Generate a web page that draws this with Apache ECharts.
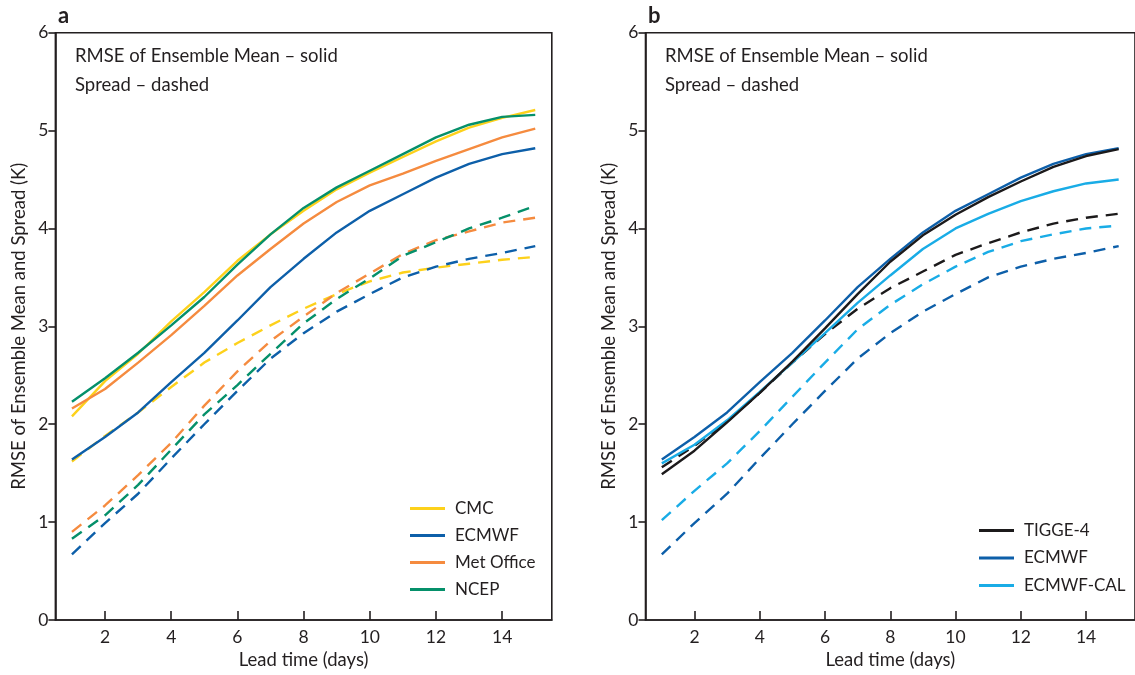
<!DOCTYPE html>
<html>
<head>
<meta charset="utf-8">
<script src="https://cdn.jsdelivr.net/npm/echarts@6/dist/echarts.min.js"></script>
<style>
  html, body { margin: 0; padding: 0; background: #ffffff; }
  #chart { width: 1135px; height: 675px; }
</style>
</head>
<body>
<div id="chart"></div>
<script>
// Lead time in days
const days = [1, 2, 3, 4, 5, 6, 7, 8, 9, 10, 11, 12, 13, 14, 15];
const xTicks = [2, 4, 6, 8, 10, 12, 14];

// Panel a: RMSE of ensemble mean (solid)
const cmcMean    = [2.08, 2.44, 2.72, 3.05, 3.35, 3.67, 3.94, 4.18, 4.40, 4.57, 4.73, 4.89, 5.03, 5.13, 5.21];
const ecmwfMean  = [1.64, 1.87, 2.12, 2.43, 2.73, 3.06, 3.40, 3.69, 3.96, 4.18, 4.35, 4.52, 4.66, 4.76, 4.82];
const metMean    = [2.16, 2.36, 2.63, 2.91, 3.21, 3.52, 3.79, 4.05, 4.27, 4.44, 4.56, 4.69, 4.81, 4.93, 5.02];
const ncepMean   = [2.23, 2.47, 2.73, 3.01, 3.30, 3.63, 3.94, 4.21, 4.42, 4.59, 4.76, 4.93, 5.06, 5.14, 5.16];

// Panel a: ensemble spread (dashed)
const cmcSpread   = [1.62, 1.88, 2.12, 2.38, 2.63, 2.83, 3.01, 3.18, 3.33, 3.46, 3.55, 3.60, 3.64, 3.68, 3.71];
const ecmwfSpread = [0.67, 0.99, 1.29, 1.65, 2.00, 2.34, 2.67, 2.93, 3.15, 3.33, 3.50, 3.61, 3.69, 3.75, 3.82];
const metSpread   = [0.90, 1.17, 1.48, 1.81, 2.19, 2.54, 2.85, 3.10, 3.34, 3.54, 3.74, 3.88, 3.97, 4.06, 4.11];
const ncepSpread  = [0.83, 1.07, 1.38, 1.74, 2.10, 2.40, 2.72, 3.03, 3.28, 3.49, 3.72, 3.86, 4.00, 4.11, 4.23];

// Panel b: multi-model and calibrated ECMWF
const tiggeMean   = [1.49, 1.73, 2.02, 2.32, 2.64, 2.98, 3.33, 3.66, 3.93, 4.14, 4.32, 4.48, 4.63, 4.74, 4.81];
const calMean     = [1.60, 1.79, 2.04, 2.33, 2.63, 2.93, 3.24, 3.52, 3.79, 4.00, 4.15, 4.28, 4.38, 4.46, 4.50];
const tiggeSpread = [1.56, 1.78, 2.03, 2.32, 2.63, 2.92, 3.18, 3.39, 3.56, 3.73, 3.85, 3.96, 4.05, 4.11, 4.15];
const calSpread   = [1.02, 1.32, 1.60, 1.93, 2.28, 2.63, 2.97, 3.22, 3.43, 3.61, 3.76, 3.87, 3.94, 4.00, 4.03];

const legendA = ['CMC', 'ECMWF', 'Met Office', 'NCEP'];
const legendB = ['TIGGE-4', 'ECMWF', 'ECMWF-CAL'];

const FONT = 'Lato';
const INK = '#231F20';
const COLORS = {
  'CMC': '#FDD11B',
  'ECMWF': '#0D5FA9',
  'Met Office': '#F58B3F',
  'NCEP': '#05906A',
  'TIGGE-4': '#1C1A1B',
  'ECMWF-CAL': '#19ACE6'
};

const pairs = (ys) => days.map((d, i) => [d, ys[i]]);

function line(name, ys, grid, dashed, color) {
  return {
    name: name,
    type: 'line',
    xAxisIndex: grid,
    yAxisIndex: grid,
    data: pairs(ys),
    showSymbol: false,
    symbol: 'none',
    silent: true,
    animation: false,
    color: color,
    lineStyle: {
      color: color,
      width: 2.4,
      type: dashed ? [12, 8] : 'solid',
      cap: 'butt'
    },
    z: dashed ? 2 : 3
  };
}

function xAxis(grid) {
  return {
    type: 'value',
    gridIndex: grid,
    min: 0.5,
    max: 15.5,
    name: 'Lead time (days)',
    nameLocation: 'middle',
    nameGap: 31,
    nameTextStyle: { fontFamily: FONT, fontSize: 18.5, color: INK },
    axisLine: { show: true, lineStyle: { color: INK, width: 1.6 } },
    axisTick: { show: true, inside: true, length: 9, customValues: xTicks, lineStyle: { color: INK, width: 1.6 } },
    axisLabel: { customValues: xTicks, fontFamily: FONT, fontSize: 17.5, color: INK, margin: 8 },
    splitLine: { show: false }
  };
}

function yAxis(grid) {
  return {
    type: 'value',
    gridIndex: grid,
    min: 0,
    max: 6,
    interval: 1,
    name: 'RMSE of Ensemble Mean and Spread (K)',
    nameLocation: 'middle',
    nameGap: 27,
    nameTextStyle: { fontFamily: FONT, fontSize: 18.5, color: INK },
    axisLine: { show: true, lineStyle: { color: INK, width: 1.6 } },
    axisTick: { show: true, inside: false, length: 7, lineStyle: { color: INK, width: 1.6 } },
    axisLabel: { fontFamily: FONT, fontSize: 17.5, color: INK, margin: 7 },
    splitLine: { show: false }
  };
}

function note(left, top, text, size, weight) {
  return {
    left: left, top: top, text: text, padding: 0,
    textStyle: { fontFamily: FONT, fontSize: size, fontWeight: weight, color: INK }
  };
}

function legend(items, left, top, gap) {
  return {
    data: items,
    orient: 'vertical',
    left: left,
    top: top,
    padding: 0,
    itemGap: gap,
    itemWidth: 35,
    itemHeight: 3,
    icon: 'rect',
    selectedMode: false,
    textStyle: { fontFamily: FONT, fontSize: 17, color: INK, padding: [0, 0, 0, 5] }
  };
}

const chart = echarts.init(document.getElementById('chart'), null, { renderer: 'canvas' });

chart.setOption({
  animation: false,
  backgroundColor: '#ffffff',
  title: [
    note(58, 5, 'a', 22, 'bold'),
    note(75, 47, 'RMSE of Ensemble Mean – solid', 18.5, 'normal'),
    note(75, 76, 'Spread – dashed', 18.5, 'normal'),
    note(648, 5, 'b', 22, 'bold'),
    note(665, 47, 'RMSE of Ensemble Mean – solid', 18.5, 'normal'),
    note(665, 76, 'Spread – dashed', 18.5, 'normal')
  ],
  legend: [legend(legendA, 410, 500, 10), legend(legendB, 979, 522, 10.5)],
  grid: [
    { left: 55.4, top: 32.7, width: 496.4, height: 590, show: true, borderColor: INK, borderWidth: 1.6, containLabel: false },
    { left: 645.5, top: 32.7, width: 497, height: 590, show: true, borderColor: INK, borderWidth: 1.6, containLabel: false }
  ],
  xAxis: [xAxis(0), xAxis(1)],
  yAxis: [yAxis(0), yAxis(1)],
  series: [
    line('CMC spread', cmcSpread, 0, true, COLORS['CMC']),
    line('ECMWF spread', ecmwfSpread, 0, true, COLORS['ECMWF']),
    line('Met Office spread', metSpread, 0, true, COLORS['Met Office']),
    line('NCEP spread', ncepSpread, 0, true, COLORS['NCEP']),
    line('CMC', cmcMean, 0, false, COLORS['CMC']),
    line('ECMWF', ecmwfMean, 0, false, COLORS['ECMWF']),
    line('Met Office', metMean, 0, false, COLORS['Met Office']),
    line('NCEP', ncepMean, 0, false, COLORS['NCEP']),

    line('TIGGE-4 spread', tiggeSpread, 1, true, COLORS['TIGGE-4']),
    line('ECMWF spread ', ecmwfSpread, 1, true, COLORS['ECMWF']),
    line('ECMWF-CAL spread', calSpread, 1, true, COLORS['ECMWF-CAL']),
    line('ECMWF-CAL', calMean, 1, false, COLORS['ECMWF-CAL']),
    line('ECMWF', ecmwfMean, 1, false, COLORS['ECMWF']),
    line('TIGGE-4', tiggeMean, 1, false, COLORS['TIGGE-4'])
  ]
});
</script>
</body>
</html>
